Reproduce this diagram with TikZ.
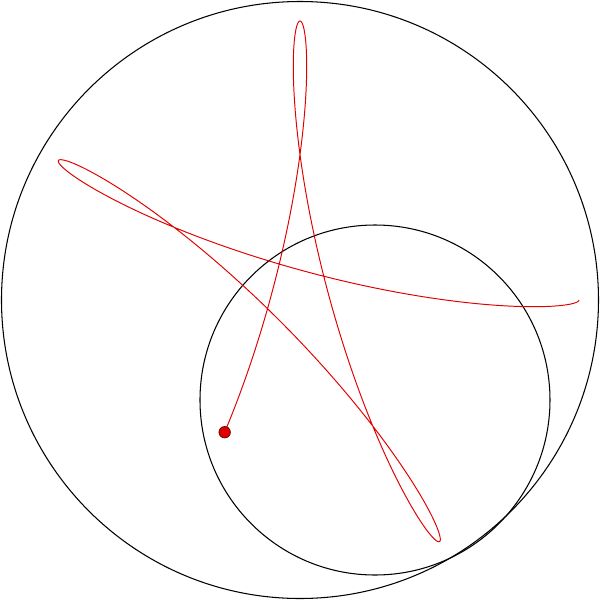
\documentclass[tikz,border=0pt]{standalone}
\usepackage{tikz}
\definecolor{pen}{HTML}{E00000}
\tikzset{
  ring/.style={draw=black,line width=0.6pt,circle,inner sep=0pt},
  trace/.style={draw=pen,line width=0.55pt},
  pendot/.style={circle,draw=black!60!red,fill=pen,inner sep=0pt,minimum size=0.23cm},
}

\begin{document}
\begin{tikzpicture}[x=0.02cm,y=0.02cm]
    \useasboundingbox (-300,-300) rectangle (300,300);

    \node[ring,minimum size=597*0.02cm] (outer) at (0,0) {};
    \node[ring,minimum size=350*0.02cm] (wheel) at (75,-100) {};

    % pen path: rolling wheel, 773 deg of travel
    \draw[trace] plot[domain=0:773,samples=600,variable=\t]
      ({125*cos(\t)+154*cos(5*\t/7)},{-125*sin(\t)+154*sin(5*\t/7)});

    \node[pendot] (tip) at ({125*cos(773)+154*cos(5*773/7)},{-125*sin(773)+154*sin(5*773/7)}) {};
\end{tikzpicture}
\end{document}
